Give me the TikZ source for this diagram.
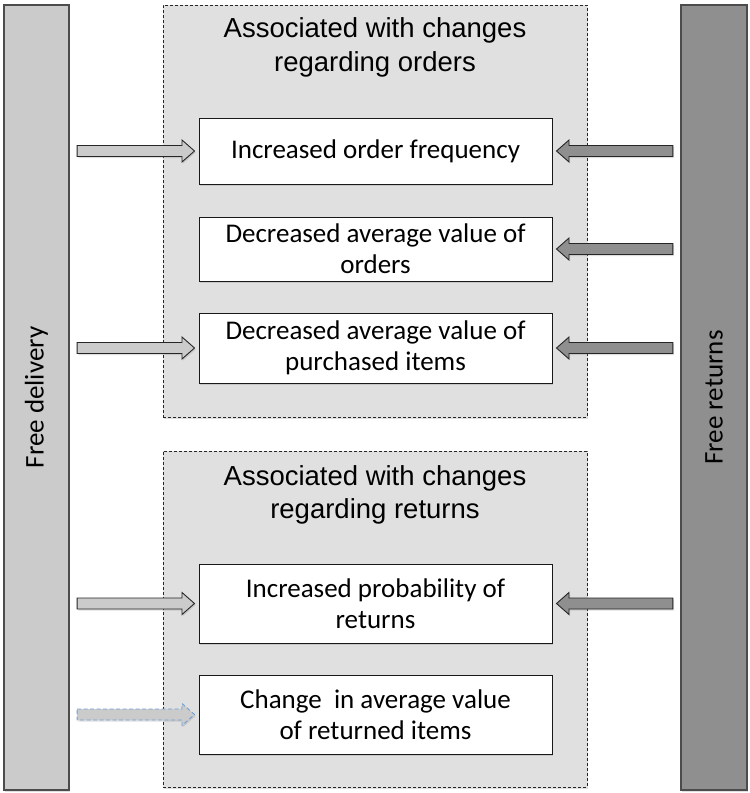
\documentclass[tikz,border=0pt]{standalone}
\usepackage{fontspec}
\setmainfont{Carlito}
\newfontfamily\titlefont{Liberation Sans}
\usepackage{tikz}
\usetikzlibrary{positioning}
\usetikzlibrary{calc,shadows}
\definecolor{lightbar}{HTML}{CBCBCB}
\definecolor{darkbar}{HTML}{8F8F8F}
\definecolor{groupgray}{HTML}{E0E0E0}
\definecolor{dashblue}{HTML}{6F9FD8}
\tikzstyle{softshadow}=[drop shadow={shadow xshift=1.2pt,shadow yshift=-1.5pt,opacity=0.25}]
\tikzstyle{sidebar}=[rectangle,draw=black!70,line width=1.2pt,minimum width=65pt,minimum height=785pt,inner sep=0pt,font=\fontsize{27}{31}\selectfont,softshadow]
\tikzstyle{groupbox}=[rectangle,draw=black!85,line width=0.8pt,dash pattern=on 3pt off 2pt,fill=groupgray,minimum width=424pt,inner sep=0pt,softshadow]
\tikzstyle{grouptitle}=[font=\titlefont\fontsize{27.5}{33.5}\selectfont,align=center]
\tikzstyle{effect}=[rectangle,draw=black!90,line width=1pt,fill=white,minimum width=353pt,inner sep=0pt,align=center,font=\fontsize{27}{31}\selectfont,softshadow]
\tikzstyle{blockarrow}=[draw=black!85,line width=0.9pt,softshadow,to path={
    ($(\tikztostart)!7.5pt!(\tikztotarget)$) coordinate (ba-s)
    ($(\tikztotarget)!4pt!(\tikztostart)$) coordinate (ba-e)
    ($(ba-e)!12.5pt!(ba-s)$) coordinate (ba-h)
    ($(ba-s)!5.5pt!90:(ba-e)$) -- ($(ba-h)!5.5pt!-90:(ba-s)$) -- ($(ba-h)!11pt!-90:(ba-s)$)
    -- (ba-e) -- ($(ba-h)!11pt!90:(ba-s)$) -- ($(ba-h)!5.5pt!90:(ba-s)$) -- ($(ba-s)!5.5pt!-90:(ba-e)$) -- cycle}]

\begin{document}
\begin{tikzpicture}[x=1pt,y=-1pt]
    \useasboundingbox (0,0) rectangle (750,793);

    \node[sidebar,fill=lightbar] (lb) at (36.5,397.5) {\rotatebox{90}{Free delivery}};
    \node[sidebar,fill=darkbar,minimum width=66pt] (rb) at (714,397.5) {\rotatebox{90}{Free returns}};

    \node[groupbox,minimum height=412] (og) at (375,211) {};
    \node[groupbox,minimum height=336] (rg) at (375,619) {};
    \node[grouptitle] (ot) at (375,47.5) {Associated with changes\\regarding orders};
    \node[grouptitle] (rt) at (375,495) {Associated with changes\\regarding returns};

    \foreach \pos/\name/\h/\txt in {{(375.5,151)/b1/66/Increased order frequency},
        {(375.5,249)/b2/64/{Decreased average value of\\orders}},
        {(375.5,348)/b3/70/{Decreased average value of\\purchased items}},
        {(375.5,603.5)/b4/79/{Increased probability of\\returns}},
        {(375.5,714.5)/b5/79/{Change~ in average value\\of returned items}}}
        \node[effect,minimum height=\h] (\name) at \pos {\txt};

    \foreach \dest in {b1,b3,b4}
        \draw[blockarrow,fill=lightbar] (lb.east |- \dest) to (\dest.west);
    \draw[blockarrow,fill=lightbar,draw=dashblue,dash pattern=on 4pt off 2.5pt] (lb.east |- b5) to (b5.west);

    \foreach \dest in {b1,b2,b3,b4}
        \draw[blockarrow,fill=darkbar] (rb.west |- \dest) to (\dest.east);

\end{tikzpicture}
\end{document}
